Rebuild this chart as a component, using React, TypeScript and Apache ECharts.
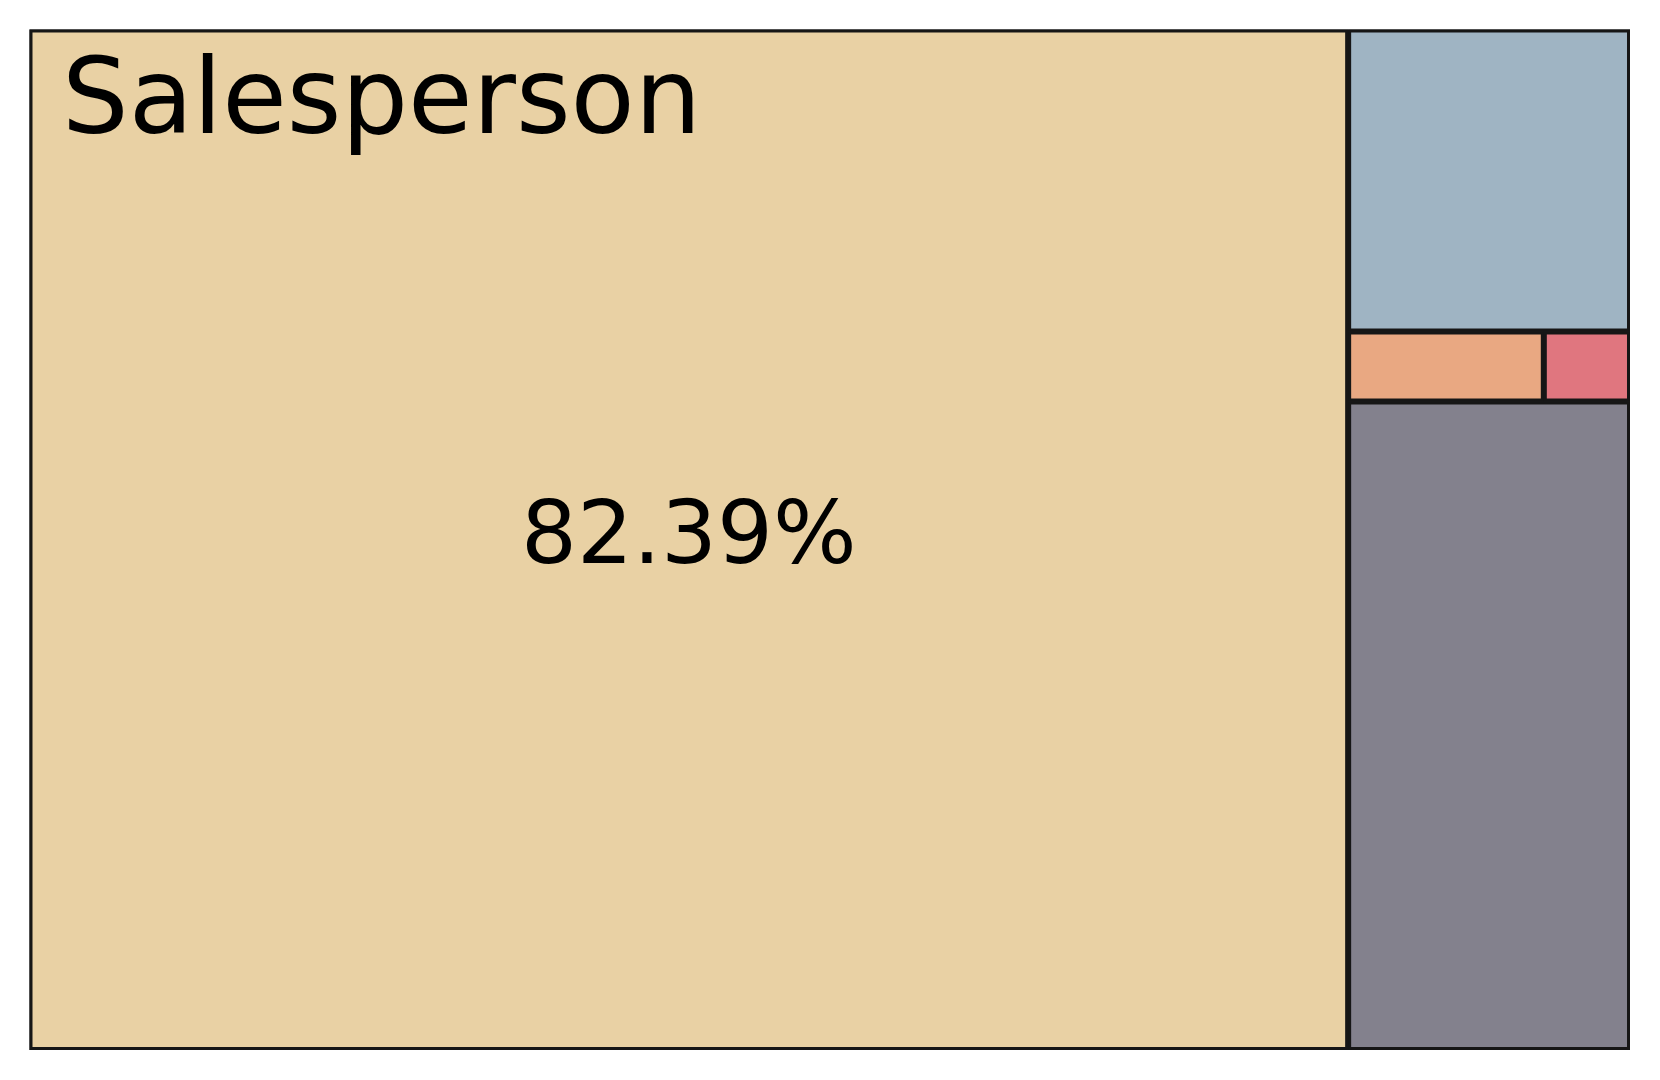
import React, { useEffect, useRef } from "react";
import * as echarts from "echarts";

const categories = ["Salesperson", "Region B", "Region C", "Region D", "Region E"];
const values = [82.39, 5.21, 0.84, 0.37, 11.19];
const colors = ["#E9D1A4", "#9FB4C3", "#E9A882", "#E0767F", "#83818D"];
const titleText = "Salesperson";

export default function App() {
  const ref = useRef<HTMLDivElement>(null);
  useEffect(() => {
    if (!ref.current) return;
    const chart = echarts.init(ref.current, undefined, { renderer: "svg" });
    const total = values.reduce((a, b) => a + b, 0);
    const data = categories.map((name, i) => ({
      name,
      value: values[i],
      itemStyle: { color: colors[i] },
      label: { show: i === 0 },
    }));
    chart.setOption({
      animation: false,
      title: {
        text: titleText,
        left: 62,
        top: 44,
        padding: 0,
        textStyle: {
          fontFamily: "DejaVu Sans",
          fontSize: 105,
          fontWeight: "normal",
          color: "#000",
          lineHeight: 105,
        },
      },
      series: [
        {
          type: "treemap",
          left: 29.5,
          top: 29.5,
          width: 1600.5,
          height: 1020.5,
          sort: false,
          squareRatio: 1,
          roam: false,
          nodeClick: false,
          silent: true,
          breadcrumb: { show: false },
          emphasis: { disabled: true },
          levels: [
            { itemStyle: { borderWidth: 0, gapWidth: 0, borderColor: "#1a1a1a" } },
            { itemStyle: { borderWidth: 3, gapWidth: 0, borderColor: "#161616" } },
          ],
          label: {
            show: false,
            position: "inside",
            offset: [0, -7],
            fontFamily: "DejaVu Sans",
            fontSize: 88,
            color: "#000",
            formatter: (p: any) => ((p.value / total) * 100).toFixed(2) + "%",
          },
          data,
        },
      ],
    });
    return () => chart.dispose();
  }, []);
  return (
    <div
      ref={ref}
      style={{ position: "fixed", left: 0, top: 0, width: 1660, height: 1080, background: "#fff" }}
    />
  );
}
